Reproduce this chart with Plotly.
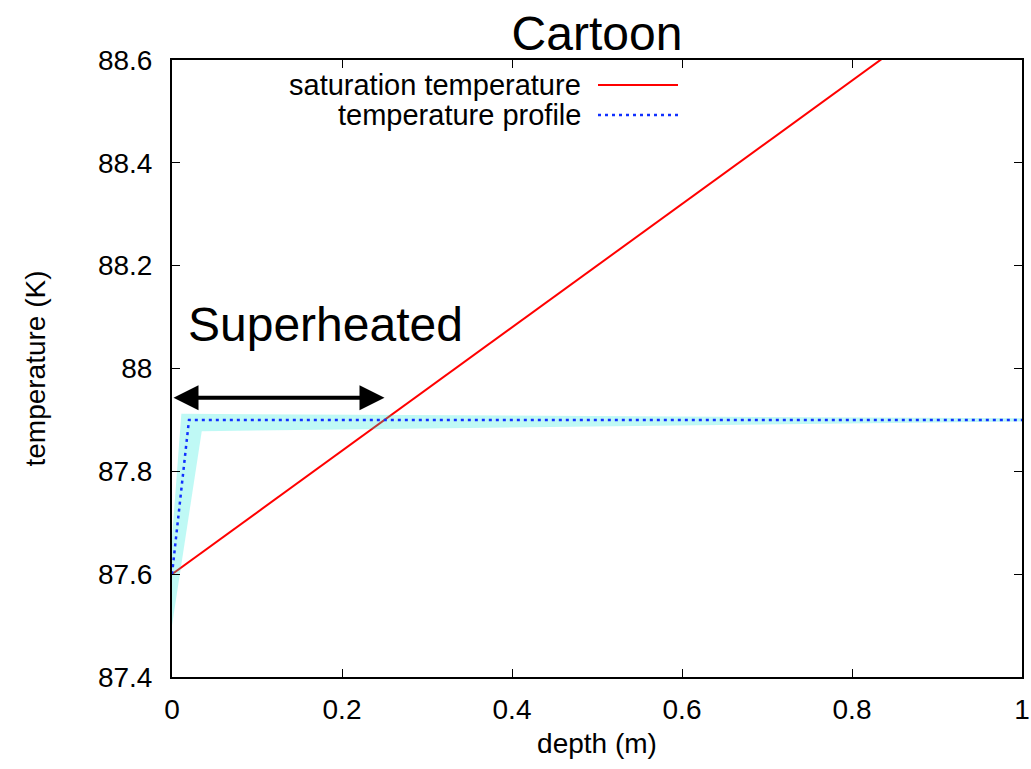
import plotly.graph_objects as go

# ---- data ----
sat_depth = [0.0, 1.0]
sat_temp = [87.6, 88.8]

profile_depth = [0.0, 0.02, 1.0]
profile_temp = [87.6, 87.9, 87.9]

band_depth = [0.0, 0.0, 0.011, 1.0, 1.0, 0.035, 0.0]
band_temp = [87.5, 87.67, 87.912, 87.903, 87.897, 87.878, 87.5]

arrow_depth = [0.0, 0.25]
arrow_temp = 87.943

x_ticks = [0, 0.2, 0.4, 0.6, 0.8, 1]
y_ticks = [87.4, 87.6, 87.8, 88.0, 88.2, 88.4, 88.6]

FONT = "Liberation Sans, Arial, Helvetica, sans-serif"

fig = go.Figure()
fig.add_trace(go.Scatter(x=sat_depth, y=sat_temp, mode="lines",
                         line=dict(color="#ff0000", width=2),
                         name="saturation temperature", showlegend=False))
fig.add_trace(go.Scatter(x=band_depth, y=band_temp, mode="lines", fill="toself",
                         fillcolor="rgba(0,232,214,0.25)", line=dict(width=0),
                         hoverinfo="skip", showlegend=False))
fig.add_trace(go.Scatter(x=profile_depth, y=profile_temp, mode="lines",
                         line=dict(color="#1030ff", width=2.5, dash="3px,4px"),
                         name="temperature profile", showlegend=False))

# double-headed arrow
fig.add_annotation(x=arrow_depth[1], y=arrow_temp, ax=arrow_depth[0], ay=arrow_temp,
                   xref="x", yref="y", axref="x", ayref="y", text="",
                   showarrow=True, arrowhead=2, startarrowhead=2, arrowside="end+start",
                   arrowwidth=4, arrowsize=1.25, startarrowsize=1.25, arrowcolor="black")
fig.add_annotation(x=0.017, y=88.085, xref="x", yref="y", text="Superheated",
                   showarrow=False, xanchor="left", yanchor="middle",
                   font=dict(family=FONT, size=48, color="black"))

# gnuplot-style legend (text right-aligned, sample at right)
legend_rows = [("saturation temperature", "#ff0000", "solid", 85),
               ("temperature profile", "#1030ff", "3px,4px", 115)]
for label, col, dash, ypx in legend_rows:
    yp = 1 - (ypx - 60) / (677 - 60)
    fig.add_annotation(x=(580 - 172) / 850, y=yp, xref="paper", yref="paper",
                       text=label, showarrow=False, xanchor="right", yanchor="middle",
                       xshift=3, font=dict(family=FONT, size=29, color="black"))
    fig.add_shape(type="line", xref="paper", yref="paper",
                  x0=(598 - 172) / 850, x1=(678 - 172) / 850, y0=yp, y1=yp,
                  line=dict(color=col, width=2.5 if dash != "solid" else 2, dash=dash))

axis_common = dict(showline=True, linecolor="black", linewidth=2, mirror="ticks",
                   ticks="inside", ticklen=8, tickwidth=1, tickcolor="black",
                   showgrid=False, zeroline=False, automargin=False,
                   tickfont=dict(family=FONT, size=28, color="black"))

fig.update_xaxes(range=[0, 1], tickvals=x_ticks, ticktext=[f"{v:g}" for v in x_ticks],
                 title=dict(text="depth (m)", font=dict(family=FONT, size=28, color="black"),
                            standoff=10),
                 ticklabelstandoff=6, **axis_common)
fig.update_yaxes(range=[87.4, 88.6], tickvals=y_ticks, ticktext=[f"{v:g}" for v in y_ticks],
                 title=dict(text="temperature (K)", font=dict(family=FONT, size=28, color="black"),
                            standoff=44),
                 ticklabelstandoff=12, **axis_common)

fig.update_layout(
    width=1031, height=769,
    margin=dict(l=172, r=9, t=60, b=92),
    paper_bgcolor="white", plot_bgcolor="white",
    title=dict(text="Cartoon", x=0.5, xref="paper", xanchor="center",
               y=1 - 33 / 769, yref="container", yanchor="middle",
               font=dict(family=FONT, size=48, color="black")),
    showlegend=False,
)

fig.write_html("out.html")
